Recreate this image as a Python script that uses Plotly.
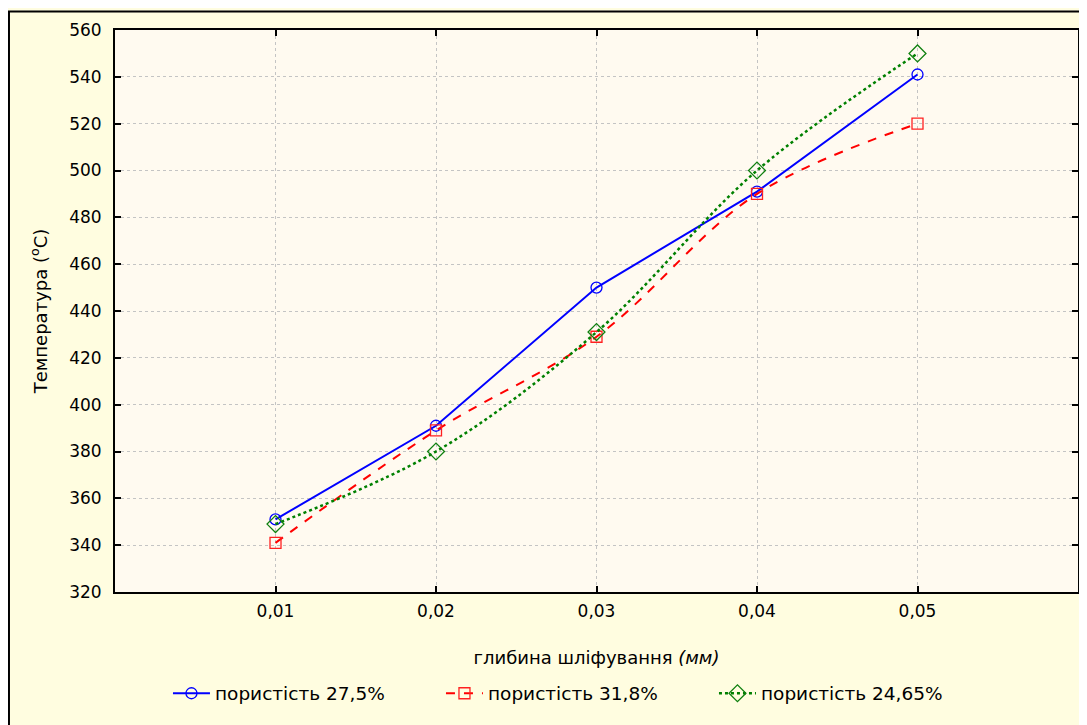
import plotly.graph_objects as go

depth = [0.01, 0.02, 0.03, 0.04, 0.05]
x_tick_labels = ["0,01", "0,02", "0,03", "0,04", "0,05"]
y_ticks = [320, 340, 360, 380, 400, 420, 440, 460, 480, 500, 520, 540, 560]

por_27_5 = [351, 391, 450, 491, 541]
por_31_8 = [341, 389, 429, 490, 520]
por_24_65 = [349, 380, 431, 500, 550]

names = ["пористість 27,5%", "пористість 31,8%", "пористість 24,65%"]

FONT = "DejaVu Sans, Liberation Sans, Arial, sans-serif"
FS = 17

fig = go.Figure()
fig.add_trace(go.Scatter(
    x=depth, y=por_27_5, name=names[0], mode="lines+markers",
    line=dict(color="#0000FF", width=2, dash="solid"),
    marker=dict(symbol="circle-open", size=11, color="#0000FF", line=dict(width=1.3)),
))
fig.add_trace(go.Scatter(
    x=depth, y=por_31_8, name=names[1], mode="lines+markers",
    line=dict(color="#FF0000", width=2, dash="dash", shape="spline", smoothing=1),
    marker=dict(symbol="square-open", size=11, color="#FF2020", line=dict(width=1.3)),
))
fig.add_trace(go.Scatter(
    x=depth, y=por_24_65, name=names[2], mode="lines+markers",
    line=dict(color="#008000", width=2.5, dash="dot", shape="spline", smoothing=1),
    marker=dict(symbol="diamond-open", size=13, color="#108010", line=dict(width=1.3)),
))

axis_common = dict(
    showline=True, linecolor="black", linewidth=2, mirror="allticks",
    ticks="inside", ticklen=6, tickwidth=2, tickcolor="black",
    showgrid=True, gridcolor="#C4C4C4", gridwidth=1, griddash="dot",
    zeroline=False, tickfont=dict(family=FONT, size=FS, color="black"),
)

fig.update_xaxes(
    range=[0.0, 0.06], tickvals=depth, ticktext=x_tick_labels,
    ticklabelstandoff=3,
    title=dict(text="глибина шліфування <i>(мм)</i>",
               font=dict(family=FONT, size=18, color="black"), standoff=31),
    **axis_common,
)
fig.update_yaxes(
    range=[320, 560], tickvals=y_ticks,
    ticklabelstandoff=8,
    title=dict(text="Температура (<sup>o</sup>C)",
               font=dict(family=FONT, size=18, color="black"), standoff=17),
    **axis_common,
)

fig.add_shape(type="rect", xref="paper", yref="paper",
              x0=-0.1101, x1=1.3, y0=-0.5, y1=1.033,
              line=dict(color="black", width=2), fillcolor="rgba(0,0,0,0)", layer="below")

fig.update_layout(
    width=1087, height=725,
    margin=dict(l=107, r=17, t=20, b=141),
    paper_bgcolor="#FFFDE0",
    plot_bgcolor="#FFFAF0",
    font=dict(family=FONT, size=FS, color="black"),
    showlegend=True,
    legend=dict(orientation="h", x=0.055, y=-0.181, xanchor="left", yanchor="middle",
                bgcolor="rgba(0,0,0,0)", font=dict(family=FONT, size=18.5, color="black"),
                entrywidth=221, entrywidthmode="pixels", itemwidth=37),
)

fig.write_html("out.html")
